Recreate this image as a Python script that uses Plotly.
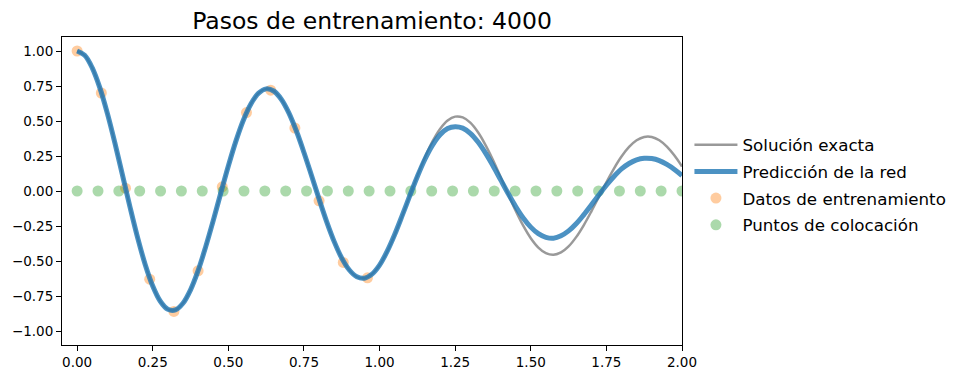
import plotly.graph_objects as go

# time grid for curves
t_curve = [0.0, 0.025, 0.05, 0.075, 0.1, 0.125, 0.15, 0.175, 0.2, 0.225, 0.25, 0.275, 0.3, 0.325, 0.35, 0.375,
           0.4, 0.425, 0.45, 0.475, 0.5, 0.525, 0.55, 0.575, 0.6, 0.625, 0.65, 0.675, 0.7, 0.725, 0.75, 0.775,
           0.8, 0.825, 0.85, 0.875, 0.9, 0.925, 0.95, 0.975, 1.0, 1.025, 1.05, 1.075, 1.1, 1.125, 1.15, 1.175,
           1.2, 1.225, 1.25, 1.275, 1.3, 1.325, 1.35, 1.375, 1.4, 1.425, 1.45, 1.475, 1.5, 1.525, 1.55, 1.575,
           1.6, 1.625, 1.65, 1.675, 1.7, 1.725, 1.75, 1.775, 1.8, 1.825, 1.85, 1.875, 1.9, 1.925, 1.95, 1.975, 2.0]

exact = [1.0, 0.9692, 0.8796, 0.7382, 0.5542, 0.3422, 0.1137, -0.1162, -0.3333, -0.5245, -0.6788, -0.7878,
         -0.8454, -0.8498, -0.8020, -0.7060, -0.5691, -0.3992, -0.2118, -0.0145, 0.1788, 0.3564, 0.5076,
         0.6237, 0.6991, 0.7295, 0.7143, 0.6557, 0.5583, 0.4285, 0.2754, 0.1107, -0.0577, -0.2184, -0.3616,
         -0.4793, -0.5643, -0.6129, -0.6226, -0.5938, -0.5292, -0.4337, -0.3139, -0.1778, -0.0343, 0.1079,
         0.2400, 0.3541, 0.4436, 0.5037, 0.5313, 0.5256, 0.4878, 0.4210, 0.3299, 0.2215, 0.1010, -0.0221,
         -0.1409, -0.2480, -0.3373, -0.4038, -0.4437, -0.4554, -0.4388, -0.3958, -0.3295, -0.2448, -0.1467,
         -0.0422, 0.0621, 0.1602, 0.2459, 0.3145, 0.3620, 0.3862, 0.3861, 0.3622, 0.3167, 0.2529, 0.1752]

prediction = [1.0, 0.9692, 0.8796, 0.7382, 0.5542, 0.3422, 0.1137, -0.1162, -0.3333, -0.5245, -0.6788, -0.7878,
              -0.8454, -0.8498, -0.8020, -0.7060, -0.5691, -0.3992, -0.2118, -0.0145, 0.1788, 0.3564, 0.5076,
              0.6237, 0.6991, 0.7295, 0.7143, 0.6557, 0.5583, 0.4285, 0.2754, 0.1107, -0.0577, -0.2184, -0.3616,
              -0.4793, -0.5643, -0.6129, -0.6226, -0.5938, -0.5292, -0.4315, -0.3108, -0.1742, -0.0333, 0.1036,
              0.2268, 0.3275, 0.4015, 0.4458, 0.4596, 0.4494, 0.4122, 0.3515, 0.2722, 0.1805, 0.0813, -0.0176,
              -0.1106, -0.1922, -0.2580, -0.3049, -0.3306, -0.3370, -0.3203, -0.2850, -0.2339, -0.1701, -0.1005,
              -0.0285, 0.0413, 0.1041, 0.1574, 0.1966, 0.2226, 0.2337, 0.2317, 0.2173, 0.1900, 0.1543, 0.1104]

t_train = [0.0, 0.08, 0.16, 0.24, 0.32, 0.40, 0.48, 0.56, 0.64, 0.72, 0.80, 0.88, 0.96]
y_train = [1.00, 0.70, 0.02, -0.63, -0.86, -0.57, 0.03, 0.56, 0.72, 0.45, -0.07, -0.51, -0.62]

t_coloc = [0.0, 0.0690, 0.1379, 0.2069, 0.2759, 0.3448, 0.4138, 0.4828, 0.5517, 0.6207, 0.6897, 0.7586,
           0.8276, 0.8966, 0.9655, 1.0345, 1.1034, 1.1724, 1.2414, 1.3103, 1.3793, 1.4483, 1.5172, 1.5862,
           1.6552, 1.7241, 1.7931, 1.8621, 1.9310, 2.0]
y_coloc = [0.0] * len(t_coloc)

x_ticks = [0.0, 0.25, 0.5, 0.75, 1.0, 1.25, 1.5, 1.75, 2.0]
y_ticks = [-1.0, -0.75, -0.5, -0.25, 0.0, 0.25, 0.5, 0.75, 1.0]

FONT = "DejaVu Sans"
OFF = 8  # page body margin in the browser

fig = go.Figure()
fig.add_trace(go.Scatter(x=t_train, y=y_train, mode="markers", name="Datos de entrenamiento",
                         marker=dict(color="#ff7f0e", size=11, opacity=0.4, line=dict(width=0)),
                         legendrank=3, legendgroup="c", cliponaxis=True))
fig.add_trace(go.Scatter(x=t_coloc, y=y_coloc, mode="markers", name="Puntos de colocación",
                         marker=dict(color="#2ca02c", size=11, opacity=0.4, line=dict(width=0)),
                         legendrank=4, legendgroup="d", cliponaxis=True))
fig.add_trace(go.Scatter(x=t_curve, y=exact, mode="lines", name="Solución exacta",
                         line=dict(color="rgba(128,128,128,0.8)", width=2.5, shape="spline"),
                         legendrank=1, legendgroup="a"))
fig.add_trace(go.Scatter(x=t_curve, y=prediction, mode="lines", name="Predicción de la red",
                         line=dict(color="rgba(31,119,180,0.8)", width=5, shape="spline"),
                         legendrank=2, legendgroup="b"))

axis_common = dict(showline=True, linecolor="black", linewidth=1, mirror=True, ticks="outside",
                   ticklen=5, tickcolor="black", showgrid=False, zeroline=False, automargin=False,
                   tickfont=dict(family=FONT, size=13.5, color="black"))

fig.update_layout(
    width=960, height=379,
    margin=dict(l=62 - OFF, r=278 + OFF, t=37 - OFF, b=34 + OFF),
    plot_bgcolor="white", paper_bgcolor="white",
    title=dict(text="Pasos de entrenamiento: 4000", x=(372 - OFF) / 960, xanchor="center",
               y=1 - (21 - OFF) / 379, yanchor="middle", font=dict(family=FONT, size=23.5, color="black")),
    xaxis=dict(range=[-0.05, 2.0], tickvals=x_ticks, tickformat=".2f", **axis_common),
    yaxis=dict(range=[-1.1, 1.1], tickvals=y_ticks, tickformat=".2f", **axis_common),
    legend=dict(x=1.012, xanchor="left", y=0.52, yanchor="middle", bgcolor="rgba(0,0,0,0)",
                font=dict(family=FONT, size=16.7, color="black"), tracegroupgap=2,
                itemwidth=43, groupclick="toggleitem"),
    showlegend=True,
)

fig.write_html("out.html")
